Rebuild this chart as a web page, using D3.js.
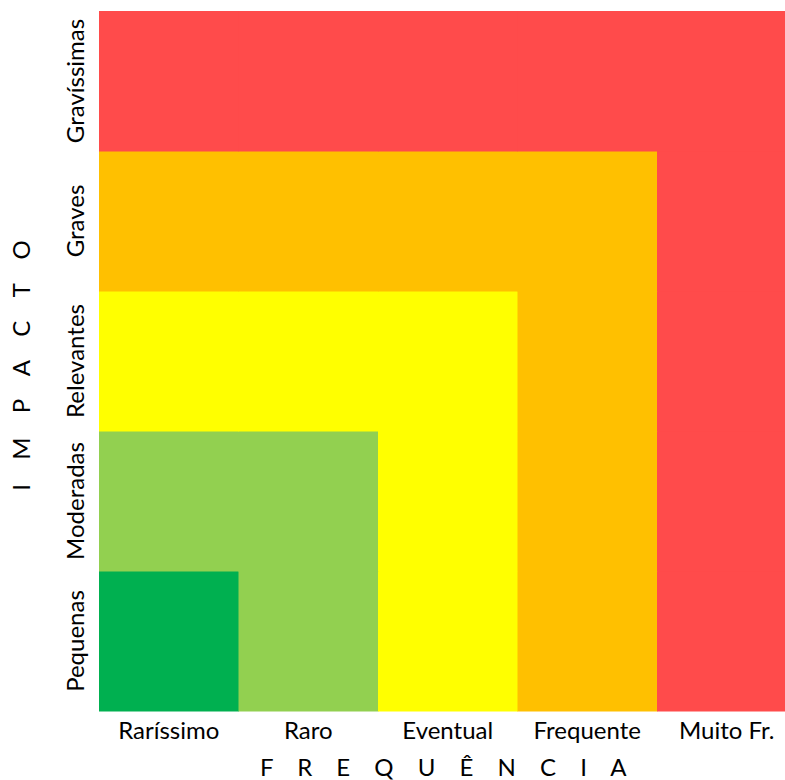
<!DOCTYPE html>
<html>
<head>
<meta charset="utf-8">
<script src="https://cdn.jsdelivr.net/npm/d3@7"></script>
<style>
  html, body { margin: 0; padding: 0; background: #fff; overflow: hidden; }
  svg text { font-family: Lato, "Open Sans", sans-serif; fill: #000; }
</style>
</head>
<body>
<svg id="chart" width="785" height="780"></svg>
<script>
// Risk matrix: frequency (columns) x impact (rows)
const frequencias = ["Raríssimo", "Raro", "Eventual", "Frequente", "Muito Fr."];
const impactos = ["Pequenas", "Moderadas", "Relevantes", "Graves", "Gravíssimas"];
// Risk level of each cell, row by row from "Pequenas" upwards
const niveis = [
  [0, 1, 2, 3, 4],
  [1, 1, 2, 3, 4],
  [2, 2, 2, 3, 4],
  [3, 3, 3, 3, 4],
  [4, 4, 4, 4, 4]
];
const coresNivel = ["#00B050", "#92D050", "#FFFF00", "#FFC000", "#FF4B4B"];

const margin = { top: 11, left: 99 };
const plotW = 697.5, plotH = 700;
const fontSize = 24;

const svg = d3.select("#chart");
const g = svg.append("g").attr("transform", `translate(${margin.left},${margin.top})`);

const x = d3.scaleBand().domain(frequencias).range([0, plotW]).padding(0);
const y = d3.scaleBand().domain(impactos).range([plotH, 0]).padding(0);
const cor = d3.scaleOrdinal().domain(d3.range(coresNivel.length)).range(coresNivel);

const cells = [];
impactos.forEach((imp, r) => frequencias.forEach((freq, c) => {
  cells.push({ freq, imp, nivel: niveis[r][c] });
}));

g.selectAll("rect.cell")
  .data(cells)
  .join("rect")
  .attr("class", "cell")
  .attr("x", d => x(d.freq))
  .attr("y", d => y(d.imp))
  .attr("width", x.bandwidth() + 0.5)
  .attr("height", y.bandwidth() + 0.5)
  .attr("fill", d => cor(d.nivel));

// Bottom axis (labels only)
const xAxis = g.append("g")
  .attr("transform", `translate(0,${plotH})`)
  .call(d3.axisBottom(x).tickSize(0).tickPadding(11));
xAxis.select(".domain").remove();
xAxis.selectAll("text")
  .attr("font-size", fontSize)
  .style("font-family", "Lato, 'Open Sans', sans-serif");

// Left axis (rotated labels)
const yAxis = g.append("g")
  .call(d3.axisLeft(y).tickSize(0).tickPadding(0));
yAxis.select(".domain").remove();
yAxis.selectAll("text")
  .attr("font-size", fontSize)
  .style("font-family", "Lato, 'Open Sans', sans-serif")
  .attr("text-anchor", "middle")
  .attr("x", 0)
  .attr("dy", 0)
  .attr("transform", "translate(-15,0) rotate(-90)");

// Axis titles
g.append("text")
  .attr("x", plotW / 2)
  .attr("y", plotH + 65)
  .attr("text-anchor", "middle")
  .attr("font-size", fontSize)
  .style("letter-spacing", "9px")
  .text("F R E Q U Ê N C I A");

g.append("text")
  .attr("transform", `translate(${-69},${plotH / 2}) rotate(-90)`)
  .attr("text-anchor", "middle")
  .attr("font-size", fontSize)
  .style("letter-spacing", "9px")
  .text("I M P A C T O");
</script>
</body>
</html>
